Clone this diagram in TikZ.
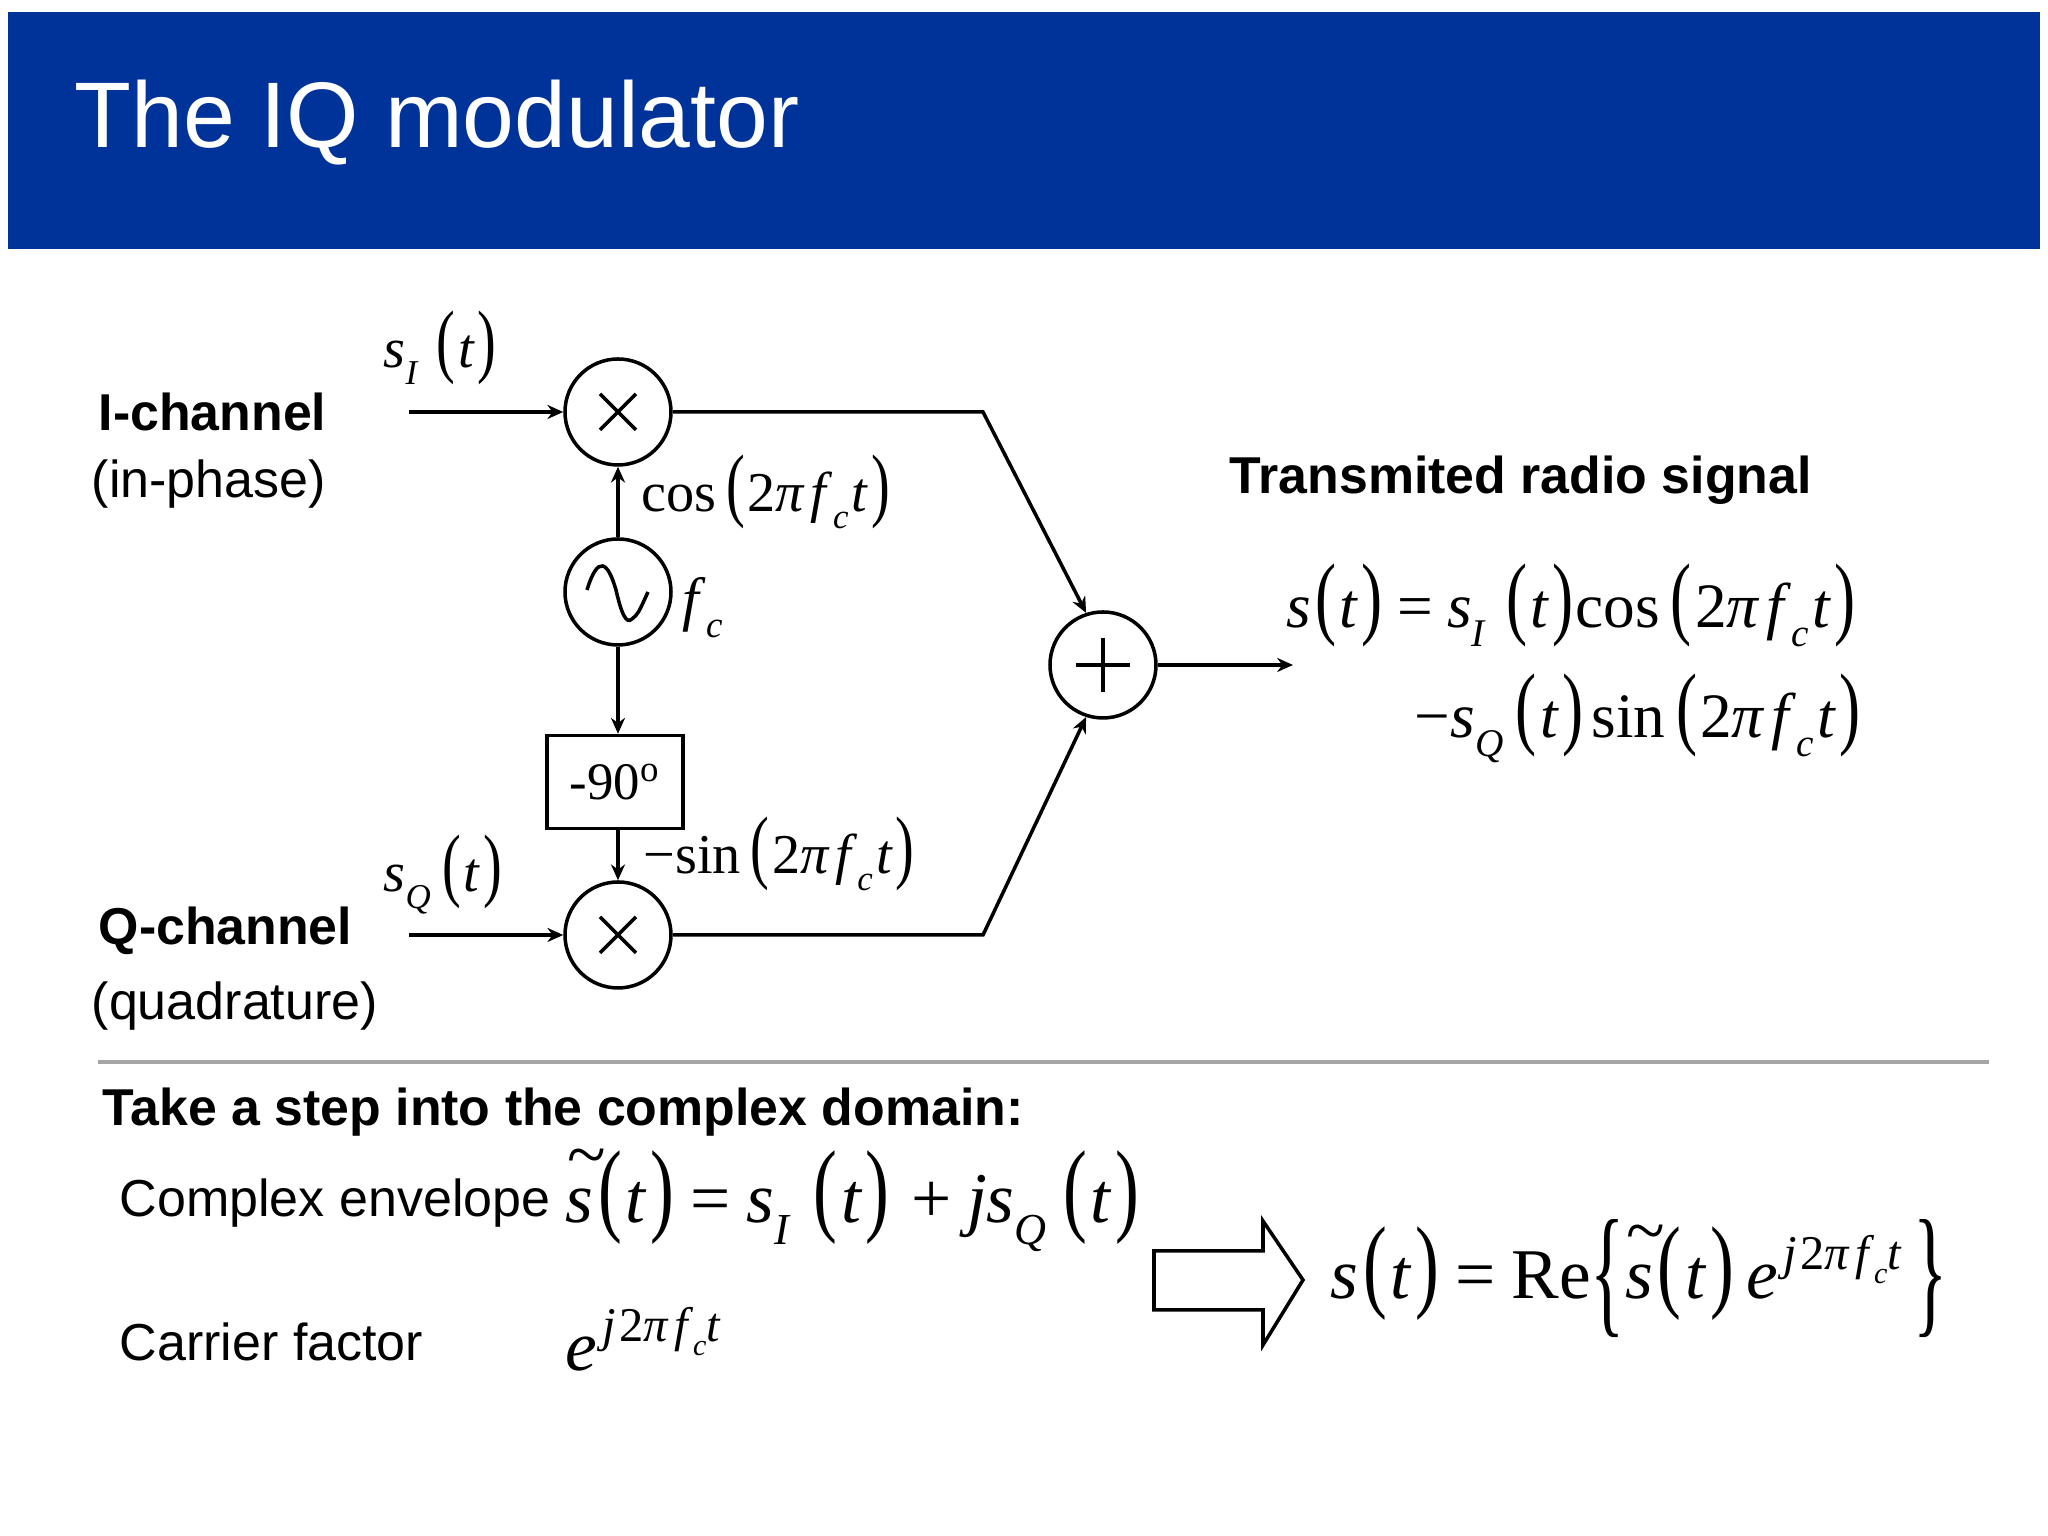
\documentclass[tikz,border=0pt]{standalone}
\usepackage{fontspec}
\usepackage{graphicx}
\usetikzlibrary{arrows.meta}
\setmainfont{Liberation Sans}
\newfontfamily\eqfont{Liberation Serif}
\definecolor{banner}{RGB}{0,51,153}
\definecolor{divider}{RGB}{165,165,165}

% pieces of the formulas, the slide sets them in Times
\newcommand{\iv}[1]{\textit{#1}}
\newcommand{\sbs}[1]{\raisebox{-.3em}{\scalebox{.62}{\textit{#1}}}}
\newcommand{\lpar}{\hspace{.07em}\scalebox{1}[1.45]{(}\hspace{.05em}}
\newcommand{\rpar}{\hspace{.05em}\scalebox{1}[1.45]{)}\hspace{.03em}}
\newcommand{\argt}{\lpar\iv{t}\rpar}
\newcommand{\phs}{\lpar 2\iv{π}\hspace{.1em}\iv{f}\sbs{c}\hspace{.06em}\iv{t}\rpar}
\newcommand{\tils}{\rlap{\raisebox{.62em}{\hspace{.02em}\char`\~}}\iv{s}}
\newcommand{\carexp}{\raisebox{.42em}{\scalebox{.68}{\hspace{.1em}\iv{j}\hspace{.08em}2\iv{π}\hspace{.1em}\iv{f}\sbs{c}\iv{t}\hspace{.1em}}}}
\newcommand{\eqs}{\hspace{.2em}=\hspace{.22em}}
\newcommand{\sI}{\iv{s}\sbs{I}\hspace{.25em}}
\newcommand{\sQ}{\iv{s}\sbs{Q}\hspace{.13em}}

\tikzset{
  mixer/.style={circle, draw, line width=1pt, minimum size=1.06cm, inner sep=0pt, fill=white,
    path picture={
      \draw[line width=1pt] ([shift={(-.18,-.18)}]path picture bounding box.center) -- ([shift={(.18,.18)}]path picture bounding box.center);
      \draw[line width=1pt] ([shift={(-.18,.18)}]path picture bounding box.center) -- ([shift={(.18,-.18)}]path picture bounding box.center);
    }},
  adder/.style={circle, draw, line width=1pt, minimum size=1.06cm, inner sep=0pt,
    path picture={
      \draw[line width=1pt] ([xshift=-.27cm]path picture bounding box.center) -- ([xshift=.27cm]path picture bounding box.center);
      \draw[line width=1pt] ([yshift=-.27cm]path picture bounding box.center) -- ([yshift=.27cm]path picture bounding box.center);
    }},
  source/.style={circle, draw, line width=1pt, minimum size=1.06cm, inner sep=0pt},
  shifter/.style={draw, line width=1pt, minimum width=1.36cm, minimum height=.93cm, inner sep=0pt,
    font=\eqfont\fontsize{15}{18}\selectfont},
  wire/.style={line width=1pt},
  sig/.style={wire, -{Stealth[length=4.5pt,width=4pt]}},
  sans/.style={anchor=base west, inner sep=0pt, font=\fontsize{14.8}{17}\selectfont},
  sansb/.style={sans, font=\fontsize{14.75}{17}\selectfont\bfseries},
  lab/.style={anchor=base west, inner sep=0pt, font=\eqfont\fontsize{16}{18}\selectfont},
  eqn/.style={anchor=base west, inner sep=0pt, font=\eqfont\fontsize{18}{20}\selectfont},
  eqnbig/.style={anchor=base west, inner sep=0pt, font=\eqfont\fontsize{20.3}{24}\selectfont},
}

\begin{document}
\begin{tikzpicture}

  \useasboundingbox (0,0) rectangle (20.48,15.36);

  % title bar
  \fill[banner] (0.08,12.87) rectangle (20.40,15.24);
  \node[anchor=base west, inner sep=0pt, white, font=\fontsize{26.5}{30}\selectfont] (title) at (0.74,13.88) {The IQ modulator};

  % channel names
  \node[sansb] (ilabel) at (0.98,11.05) {I-channel};
  \node[sans] (ilabelb) at (0.91,10.38) {(in-phase)};
  \node[sansb] (qlabel) at (0.98,5.91) {Q-channel};
  \node[sans] (qlabelb) at (0.91,5.16) {(quadrature)};

  % the blocks
  \node[mixer] (mixi) at (6.18,11.24) {};
  \node[source] (osc) at (6.18,9.44) {};
  \node[shifter] (shift) at (6.15,7.54) {-90\textsuperscript{o}};
  \node[mixer] (mixq) at (6.18,6.01) {};
  \node[adder] (sum) at (11.03,8.71) {};

  % the sine in the oscillator
  \draw[line width=1pt, shift={(osc)}] (-.31,.02) .. controls (-.2,.38) and (-.1,.3) .. (-.02,.02)
    .. controls (.03,-.2) and (.08,-.33) .. (.14,-.27) .. controls (.2,-.22) .. (.3,.0);

  % free ends and corners
  \coordinate (iin) at (4.09,11.24);
  \coordinate (qin) at (4.09,6.01);
  \coordinate (icorner) at (9.83,11.24);
  \coordinate (qcorner) at (9.83,6.01);
  \coordinate (out) at (12.93,8.71);

  % connectors
  \draw[sig] (iin) -- (mixi);
  \draw[sig] (qin) -- (mixq);
  \draw[sig] (osc) -- (mixi);
  \draw[sig] (osc) -- (osc |- shift.north);
  \draw[sig] (mixq |- shift.south) -- (mixq);
  \draw[sig] (mixi) -- (icorner) -- (sum.108);
  \draw[sig] (mixq) -- (qcorner) -- (sum.252);
  \draw[sig] (sum) -- (out);

  % labels at the blocks
  \node[lab] (si) at (3.83,11.68) {\sI\argt};
  \node[lab] (sq) at (3.83,6.44) {\sQ\argt};
  \node[lab] (coslab) at (6.41,10.24) {cos\hspace{.1em}\phs};
  \node[lab] (fclab) at (6.82,9.16) {\fontsize{17}{20}\selectfont\iv{f}\sbs{c}};
  \node[lab] (sinlab) at (6.43,6.62) {−sin\hspace{.1em}\phs};

  % transmitted signal
  \node[sansb] (txlabel) at (12.29,10.42) {Transmited radio signal};
  \node[eqn] (txone) at (12.86,9.08) {\iv{s}\argt\eqs\sI\argt cos\hspace{.1em}\phs};
  \node[eqn] (txtwo) at (14.14,7.98) {−\sQ\argt\hspace{.1em}sin\hspace{.1em}\phs};

  % lower part
  \draw[divider, line width=1pt] (0.98,4.74) -- (19.89,4.74);
  \node[sansb] (steplabel) at (1.02,4.10) {Take a step into the complex domain:};
  \node[sans] (envlabel) at (1.19,3.19) {Complex envelope};
  \node[sans] (carlabel) at (1.19,1.75) {Carrier factor};
  \node[eqnbig] (enveq) at (5.65,3.13) {\tils\argt\eqs\sI\argt\hspace{.27em}+\hspace{.22em}\iv{js}\sbs{Q}\hspace{.17em}\argt};
  \node[eqnbig] (careq) at (5.65,1.65) {\iv{e}\carexp};

  % the big arrow
  \draw[line width=1pt] (11.54,2.26) -- (12.63,2.26) -- (12.63,1.91) -- (13.03,2.56)
    -- (12.63,3.15) -- (12.63,2.85) -- (11.54,2.85) -- cycle;
  \node[eqnbig] (result) at (13.30,2.37) {\iv{s}\argt\eqs Re\raisebox{-.28em}{\scalebox{1}[2]{\{}}\tils\argt\hspace{.15em}\iv{e}\carexp\hspace{.1em}\raisebox{-.28em}{\scalebox{1}[2]{\}}}};

\end{tikzpicture}
\end{document}
